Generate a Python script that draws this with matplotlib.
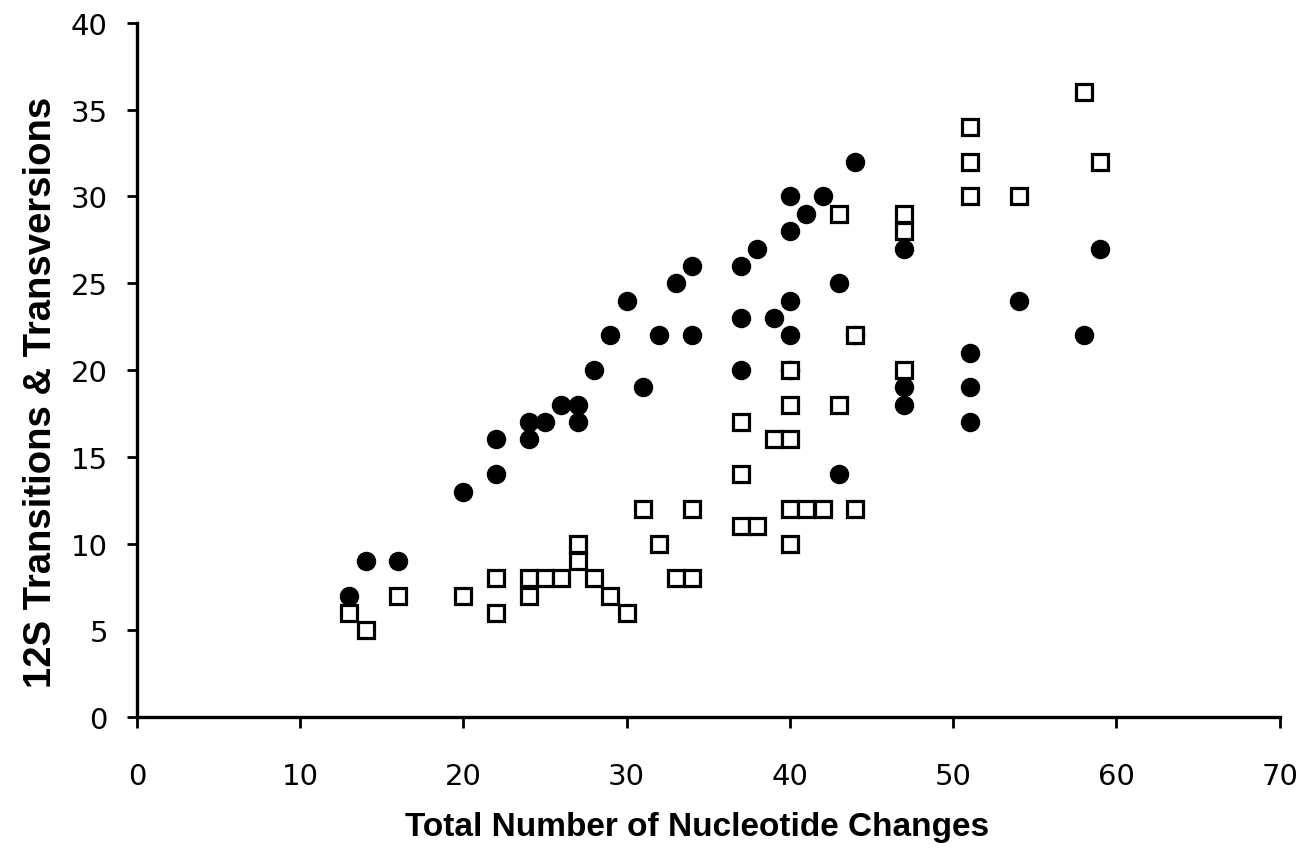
import matplotlib.pyplot as plt

# Total number of nucleotide changes (x) and 12S counts for the two series
circle_x = [13, 14, 16, 20, 22, 22, 24, 24, 25, 26, 27, 27, 28, 29, 30, 31, 32, 33, 34, 34,
            37, 37, 37, 38, 39, 40, 40, 40, 40, 40, 41, 42, 43, 43, 44, 44,
            47, 47, 47, 51, 51, 51, 54, 58, 59]
circle_y = [7, 9, 9, 13, 16, 14, 17, 16, 17, 18, 18, 17, 20, 22, 24, 19, 22, 25, 26, 22,
            26, 23, 20, 27, 23, 30, 28, 24, 22, 20, 29, 30, 25, 14, 32, 22,
            27, 19, 18, 21, 19, 17, 24, 22, 27]

square_x = [13, 14, 16, 20, 22, 22, 24, 24, 25, 26, 27, 27, 28, 29, 30, 31, 32, 33, 34, 34,
            37, 37, 37, 38, 39, 40, 40, 40, 40, 40, 41, 42, 43, 43, 44, 44,
            47, 47, 47, 51, 51, 51, 54, 58, 59]
square_y = [6, 5, 7, 7, 6, 8, 7, 8, 8, 8, 9, 10, 8, 7, 6, 12, 10, 8, 8, 12,
            11, 14, 17, 11, 16, 10, 12, 16, 18, 20, 12, 12, 18, 29, 12, 22,
            20, 28, 29, 30, 32, 34, 30, 36, 32]

x_ticks = [0, 10, 20, 30, 40, 50, 60, 70]
y_ticks = [0, 5, 10, 15, 20, 25, 30, 35, 40]

plt.rcParams['font.family'] = ['Liberation Sans', 'DejaVu Sans']

fig = plt.figure(figsize=(13.12, 8.54), dpi=100)
fig.patch.set_facecolor('white')
ax = fig.add_axes([0.1044, 0.159, 0.871, 0.813])

ax.plot(circle_x, circle_y, linestyle='none', marker='o', markersize=13,
        color='black', zorder=3)
ax.plot(square_x, square_y, linestyle='none', marker='s', markersize=11.7,
        markerfacecolor='white', markeredgecolor='black', markeredgewidth=2.3,
        zorder=4)

ax.set_xlim(0, 70)
ax.set_ylim(0, 40)
ax.set_xticks(x_ticks)
ax.set_yticks(y_ticks)

for spine in ['top', 'right']:
    ax.spines[spine].set_visible(False)
for spine in ['left', 'bottom']:
    ax.spines[spine].set_linewidth(2.4)

ax.tick_params(axis='x', direction='out', length=8, width=2, pad=24)
ax.tick_params(axis='y', direction='out', length=7, width=2, pad=14)
for lbl in ax.get_xticklabels() + ax.get_yticklabels():
    lbl.set_fontfamily('DejaVu Sans')
    lbl.set_fontsize(21)

ax.set_xlabel('Total Number of Nucleotide Changes', fontsize=24, fontweight='bold')
ax.xaxis.set_label_coords(0.49, -0.135)
ax.set_ylabel('12S Transitions & Transversions', fontsize=27.5, fontweight='bold')
ax.yaxis.set_label_coords(-0.068, 0.47)

plt.savefig('out.png', dpi=100)
plt.close()
